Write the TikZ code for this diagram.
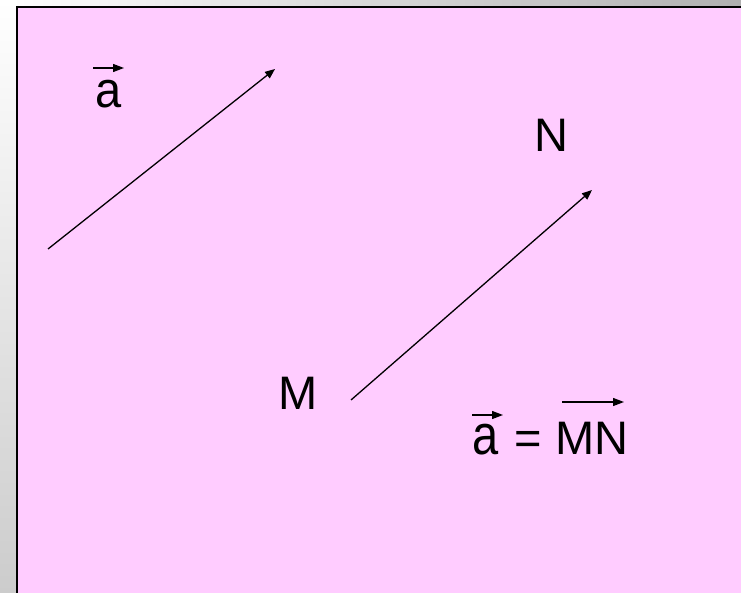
\documentclass[tikz,border=0pt]{standalone}
\usepackage{fontspec}
\setmainfont{Liberation Sans}
\usetikzlibrary{arrows.meta}
\definecolor{pinkbg}{HTML}{FFCCFF}
\definecolor{shadegrey}{HTML}{B0B0B0}
\definecolor{shadegreyb}{HTML}{CCCCCC}
\begin{document}
\begin{tikzpicture}[x=1pt,y=-1pt,
  lbl/.style={inner sep=0pt, anchor=base, font=\fontsize{47}{56}\selectfont},
  vec/.style={line width=1.3pt, -{Triangle[length=10pt,width=8pt]}},
  overvec/.style={line width=1.3pt, -{Triangle[length=11pt,width=8pt]}}]
\useasboundingbox (0,0) rectangle (741,593);
% shadow strips
\shade[left color=white, right color=shadegrey] (0,0) rectangle (741,8);
\shade[top color=white, bottom color=shadegreyb] (0,0) rectangle (17,593);
% pink panel
\fill[pinkbg] (17,7) rectangle (741,593);
\draw[line width=2pt] (17,593) -- (17,7) -- (741,7);
% vector a (free)
\coordinate (a0) at (48,249);
\coordinate (a1) at (275,69);
\draw[vec] (a0) -- (a1);
\node[lbl] (la) at (109,108) {\scalebox{1}[1.08]{a}};
\coordinate (la0) at (93,68);
\coordinate (la1) at (124,68);
\draw[overvec] (la0) -- (la1);
% vector MN
\coordinate (m0) at (351,400);
\coordinate (m1) at (592,190);
\draw[vec] (m0) -- (m1);
\node[lbl] (M) at (298.5,409) {M};
\node[lbl] (N) at (551.5,152) {N};
% equation a = MN
\node[lbl] (ea) at (485.5,454) {\scalebox{1}[1.2]{a}};
\node[lbl] (eq) at (528.5,454) {=};
\node[lbl] (MN) at (592,454) {MN};
\coordinate (ea0) at (472,415);
\coordinate (ea1) at (503,415);
\draw[overvec] (ea0) -- (ea1);
\coordinate (mn0) at (562,402);
\coordinate (mn1) at (624,402);
\draw[overvec] (mn0) -- (mn1);
\end{tikzpicture}
\end{document}
